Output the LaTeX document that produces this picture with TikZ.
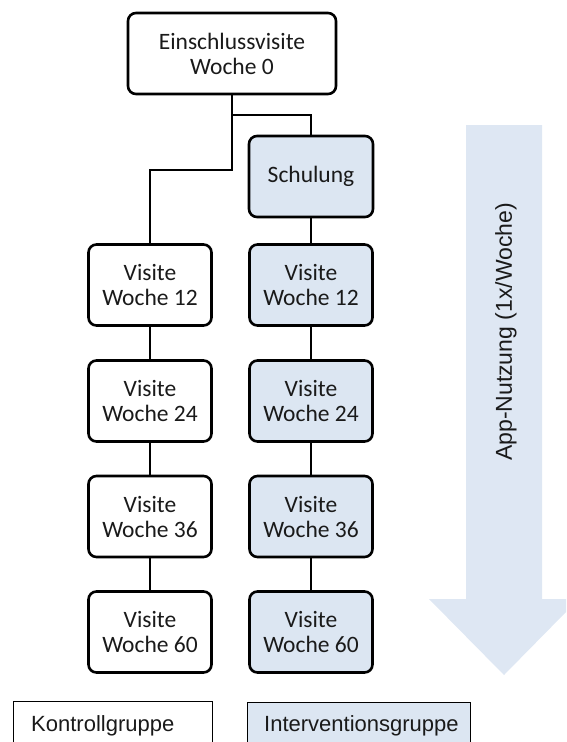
\documentclass[tikz,border=0pt]{standalone}
\usepackage{fontspec}
\setmainfont{Carlito}
\newfontfamily\arialf{Liberation Sans}
\definecolor{boxblue}{HTML}{DCE6F2}
\definecolor{arrowblue}{HTML}{DEE7F3}
\definecolor{txt}{HTML}{1A1A1A}
\begin{document}
\begin{tikzpicture}[x=1pt,y=-1pt,
  box/.style={draw=black, line width=2.6pt, rounded corners=8pt, minimum height=81pt, inner sep=0pt, align=center, font=\fontsize{23.5}{25}\selectfont, text=txt},
  ibox/.style={box, fill=boxblue},
  conn/.style={line width=1.8pt},
  legendbox/.style={draw=black, line width=0.9pt},
  legendtext/.style={font=\arialf\fontsize{22}{26}\selectfont, text=txt, inner sep=0pt, anchor=base west}]
\useasboundingbox (0,0) rectangle (566,742);
% big arrow
\fill[arrowblue] (466,125) -- (542,125) -- (542,599) -- (566,599) -- (566,612) -- (504,675) -- (429,599) -- (466,599) -- cycle;
\node[font=\arialf\fontsize{23}{26}\selectfont, text=txt, rotate=90] (app) at (506,332) {App-Nutzung (1x/Woche)};
% boxes
\node[box, minimum width=208pt] (top) at (232,53.5) {Einschlussvisite\\Woche 0};
\node[ibox, minimum width=124pt] (schul) at (311,176.5) {Schulung};
\node[box, minimum width=123pt] (l12) at (150,285) {Visite\\Woche 12};
\node[box, minimum width=123pt] (l24) at (150,401) {Visite\\Woche 24};
\node[box, minimum width=123pt] (l36) at (150,516.5) {Visite\\Woche 36};
\node[box, minimum width=123pt] (l60) at (150,632) {Visite\\Woche 60};
\node[ibox, minimum width=123pt] (r12) at (311,285) {Visite\\Woche 12};
\node[ibox, minimum width=123pt] (r24) at (311,401) {Visite\\Woche 24};
\node[ibox, minimum width=123pt] (r36) at (311,516.5) {Visite\\Woche 36};
\node[ibox, minimum width=123pt] (r60) at (311,632) {Visite\\Woche 60};
% connectors
\coordinate (j1) at (232,115);
\coordinate (j2) at (232,170);
\draw[conn] (top.south) -- (j1) -| (schul.north);
\draw[conn] (j1) -- (j2) -| (l12.north);
\draw[conn] (schul.south) -- (r12.north);
\draw[conn] (l12.south) -- (l24.north);
\draw[conn] (l24.south) -- (l36.north);
\draw[conn] (l36.south) -- (l60.north);
\draw[conn] (r12.south) -- (r24.north);
\draw[conn] (r24.south) -- (r36.north);
\draw[conn] (r36.south) -- (r60.north);
% legend
\draw[legendbox] (13,701) rectangle (212,760);
\draw[legendbox, fill=boxblue] (247,702) rectangle (470,760);
\node[legendtext] (kg) at (31,731) {Kontrollgruppe};
\node[legendtext] (ig) at (264,731) {Interventionsgruppe};
\end{tikzpicture}
\end{document}
